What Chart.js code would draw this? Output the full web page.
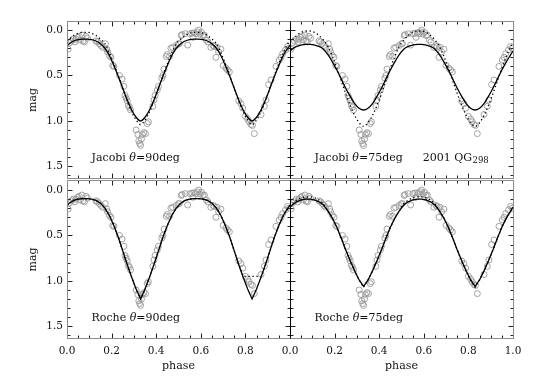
<!DOCTYPE html>
<html><head><meta charset="utf-8">
<script src="https://cdn.jsdelivr.net/npm/chart.js@4"></script>
<style>
html,body{margin:0;padding:0;background:#fff;}
#wrap{position:relative;width:534px;height:382px;background:#fff;}
#wrap canvas{position:absolute;left:0;top:0;}
</style></head><body>
<div id="wrap">
<canvas id="c0" width="534" height="382"></canvas>
<canvas id="c1" width="534" height="382"></canvas>
<canvas id="c2" width="534" height="382"></canvas>
<canvas id="c3" width="534" height="382"></canvas>
</div>
<script>
// ---------- data ----------
const modelPhase = [0,0.01,0.03,0.05,0.07,0.09,0.11,0.13,0.15,0.17,0.19,0.21,0.23,0.25,0.27,0.29,0.31,0.33,0.35,0.37,0.39,0.41,0.43,0.45,0.47,0.49,0.51,0.53,0.55,0.57,0.59,0.61,0.63,0.65,0.67,0.69,0.71,0.73,0.75,0.77,0.79,0.81,0.83,0.85,0.87,0.89,0.91,0.93,0.95,0.97,0.99,1];

const jacobi90Solid = [.17,.15,.12,.105,.10,.10,.105,.12,.15,.20,.28,.39,.51,.64,.77,.88,.96,1.00,.96,.88,.77,.64,.51,.39,.28,.20,.15,.12,.105,.10,.10,.105,.12,.15,.20,.28,.39,.51,.64,.77,.88,.96,1.00,.96,.88,.77,.64,.51,.39,.28,.20,.17];
const jacobi90Dotted = [.12,.10,.06,.035,.025,.025,.035,.06,.10,.15,.25,.37,.50,.64,.78,.90,.99,1.04,.99,.90,.78,.64,.50,.37,.25,.15,.10,.06,.035,.025,.025,.035,.06,.10,.15,.25,.37,.50,.64,.78,.90,.99,1.04,.99,.90,.78,.64,.50,.37,.25,.15,.12];
const jacobi75Solid = [.23,.21,.18,.165,.157,.157,.165,.18,.21,.27,.35,.44,.54,.64,.73,.81,.86,.88,.86,.81,.73,.64,.54,.44,.35,.27,.21,.18,.165,.157,.157,.165,.18,.21,.27,.35,.44,.54,.64,.73,.81,.86,.88,.86,.81,.73,.64,.54,.44,.35,.27,.23];
const jacobi75Dotted = [.14,.11,.06,.025,.01,.01,.025,.06,.11,.18,.29,.42,.56,.70,.83,.94,1.02,1.06,1.02,.94,.83,.70,.56,.42,.29,.18,.11,.06,.025,.01,.01,.025,.06,.11,.18,.29,.42,.56,.70,.83,.94,1.02,1.06,1.02,.94,.83,.70,.56,.42,.29,.18,.14];
const roche90Solid = [.17,.145,.115,.10,.095,.095,.10,.115,.145,.20,.28,.39,.52,.67,.82,.96,1.09,1.20,1.09,.96,.82,.67,.52,.39,.28,.20,.145,.115,.10,.095,.095,.10,.115,.145,.20,.28,.39,.52,.67,.82,.96,1.09,1.20,1.09,.96,.82,.67,.52,.39,.28,.20,.17];
const roche90Dotted = [.17,.145,.115,.10,.095,.095,.10,.115,.145,.20,.28,.39,.52,.67,.82,.96,1.09,1.20,1.09,.96,.82,.67,.52,.39,.28,.20,.145,.115,.10,.095,.095,.10,.115,.145,.20,.28,.39,.52,.67,.82,.95,.95,.95,.95,.95,.82,.67,.52,.39,.28,.20,.17];
const roche75Solid = [.19,.165,.13,.11,.10,.10,.11,.13,.165,.23,.31,.41,.53,.66,.78,.89,.99,1.06,.99,.89,.78,.66,.53,.41,.31,.23,.165,.13,.11,.10,.10,.11,.13,.165,.23,.31,.41,.53,.66,.78,.89,.99,1.06,.99,.89,.78,.66,.53,.41,.31,.23,.19];
const roche75Dotted = [.18,.15,.11,.085,.075,.075,.085,.11,.15,.23,.31,.41,.53,.66,.78,.89,.99,1.07,.99,.89,.78,.66,.53,.41,.31,.23,.15,.11,.085,.075,.075,.085,.11,.15,.23,.31,.41,.53,.66,.78,.89,.99,1.07,.99,.89,.78,.66,.53,.41,.31,.23,.18];

const obsPhase = [0.005,0.012,0.02,0.028,0.035,0.04,0.048,0.055,0.06,0.067,0.072,0.078,0.085,0.092,0.13,0.137,0.145,0.152,0.16,0.172,0.178,0.182,0.19,0.197,0.205,0.21,
0.235,0.247,0.255,0.26,0.265,0.27,0.275,0.28,0.285,0.31,0.318,0.322,0.326,0.33,0.334,0.338,0.345,0.352,0.36,0.365,
0.385,0.39,0.395,0.405,0.41,0.425,0.43,0.435,0.445,0.45,0.46,0.466,0.474,0.49,0.5,
0.504,0.512,0.516,0.53,0.541,0.551,0.56,0.565,0.57,0.578,0.585,0.59,0.597,0.603,0.61,0.616,0.625,0.632,0.645,0.655,0.66,0.668,0.672,0.68,0.69,
0.70,0.713,0.72,0.728,0.77,0.78,0.788,0.80,0.81,0.817,0.825,0.832,0.84,
0.87,0.885,0.892,0.904,0.915,0.937,0.952,0.96,0.967,0.98,0.989,0.996];
const obsMag = [0.21,0.14,0.12,0.10,0.13,0.10,0.08,0.07,0.11,0.055,0.12,0.13,0.07,0.09,0.12,0.13,0.15,0.17,0.19,0.15,0.21,0.24,0.28,0.30,0.39,0.40,
0.50,0.54,0.62,0.72,0.75,0.78,0.83,0.85,0.88,1.10,1.15,1.22,1.25,1.27,1.20,1.15,1.13,1.14,1.03,1.01,
0.84,0.77,0.72,0.66,0.62,0.53,0.50,0.43,0.29,0.27,0.29,0.20,0.19,0.17,0.15,
0.15,0.06,0.05,0.04,0.165,0.04,0.035,0.08,0.03,0.04,0.02,0.0,0.045,0.025,0.06,0.055,0.11,0.13,0.19,0.17,0.18,0.30,0.19,0.24,0.21,
0.39,0.42,0.44,0.46,0.78,0.81,0.86,0.95,0.98,1.01,1.04,1.05,1.14,
0.93,0.84,0.77,0.60,0.55,0.40,0.33,0.30,0.26,0.22,0.18,0.20];

const magTicks = [0.0, 0.5, 1.0, 1.5];
const phaseTicksLeft = [0.0, 0.2, 0.4, 0.6, 0.8];
const phaseTicksRight = [0.0, 0.2, 0.4, 0.6, 0.8, 1.0];
const panelLabels = ['Jacobi', 'Jacobi', 'Roche', 'Roche'];
const panelAngles = ['=90deg', '=75deg', '=90deg', '=75deg'];
const objectName = '2001 QG';
const objectSub = '298';
const yTitle = 'mag';
const xTitle = 'phase';

// ---------- drawing ----------
const SERIF = '"DejaVu Serif", "Liberation Serif", serif';
const GRAY = '#8c8c8c';

const deco = {
  id: 'deco',
  afterDatasetsDraw(chart, args, o) {
    const {ctx, chartArea: a, scales} = chart;
    const xs = scales.x, ys = scales.y;
    ctx.save();
    const L = Math.round(a.left) + 0.5, R = Math.round(a.right) + 0.5;
    const T = Math.round(a.top) + 0.5, B = Math.round(a.bottom) - 0.5;
    ctx.strokeStyle = '#222';
    ctx.lineWidth = 1;
    ctx.beginPath();
    for (let i = 0; i <= 20; i++) {
      const v = i * 0.05;
      const len = (i % 4 === 0) ? 5 : 3;
      const px = Math.round(xs.getPixelForValue(v)) + 0.5;
      ctx.moveTo(px, T); ctx.lineTo(px, T + len);
      ctx.moveTo(px, B); ctx.lineTo(px, B - len);
    }
    for (let i = 0; i <= 16; i++) {
      const v = i * 0.1;
      const len = (i % 5 === 0) ? 5 : 3;
      const py = Math.round(ys.getPixelForValue(v)) + 0.5;
      ctx.moveTo(L, py); ctx.lineTo(L + len, py);
      ctx.moveTo(R, py); ctx.lineTo(R - len, py);
    }
    ctx.stroke();
    const edge = (x1, y1, x2, y2, c) => { ctx.strokeStyle = c; ctx.beginPath(); ctx.moveTo(x1, y1); ctx.lineTo(x2, y2); ctx.stroke(); };
    ctx.lineWidth = 1;
    edge(L, T, R, T, GRAY);
    edge(L, B, R, B, GRAY);
    edge(L, T, L, B, o.leftColor);
    edge(R, T, R, B, o.rightColor);
    ctx.fillStyle = '#111';
    ctx.textBaseline = 'middle';
    ctx.textAlign = 'left';
    let x = xs.getPixelForValue(o.labelX);
    const y = ys.getPixelForValue(o.labelY);
    ctx.font = '11px ' + SERIF;
    const t1 = o.name + ' ';
    ctx.fillText(t1, x, y); x += ctx.measureText(t1).width;
    ctx.font = 'italic 11px ' + SERIF;
    ctx.fillText('\u03B8', x, y); x += ctx.measureText('\u03B8').width;
    ctx.font = '11px ' + SERIF;
    ctx.fillText(o.angle, x, y);
    if (o.object) {
      let x2 = xs.getPixelForValue(o.objectX);
      ctx.fillText(objectName, x2, y); x2 += ctx.measureText(objectName).width + 0.5;
      ctx.font = '8.5px ' + SERIF;
      ctx.fillText(objectSub, x2, y + 3);
    }
    ctx.restore();
  }
};

function makePanel(id, solid, dotted, cfg) {
  const lineData = (arr) => modelPhase.map((p, i) => ({x: p, y: arr[i]}));
  const obs = obsPhase.map((p, i) => ({x: p, y: obsMag[i]}));
  new Chart(document.getElementById(id), {
    type: 'scatter',
    data: {
      datasets: [
        {type: 'line', data: lineData(solid), borderColor: '#000', borderWidth: 1.3, pointRadius: 0,
         tension: cfg.smooth ? 0.4 : 0, cubicInterpolationMode: cfg.smooth ? 'monotone' : 'default', fill: false},
        {type: 'line', data: lineData(dotted), borderColor: '#000', borderWidth: 1.3, borderDash: [1.3, 2.7], pointRadius: 0,
         tension: cfg.smooth ? 0.4 : 0, cubicInterpolationMode: cfg.smooth ? 'monotone' : 'default', fill: false},
        {data: obs, pointStyle: 'circle', pointRadius: 3.0, borderColor: '#9a9a9a', backgroundColor: 'rgba(0,0,0,0)', borderWidth: 0.9}
      ]
    },
    options: {
      responsive: false, animation: false, devicePixelRatio: 1,
      layout: {padding: cfg.padding},
      plugins: {legend: {display: false}, tooltip: {enabled: false},
        deco: {name: cfg.name, angle: cfg.angle, labelX: 0.11, labelY: 1.41, object: cfg.object, objectX: 0.595,
               leftColor: cfg.leftColor, rightColor: cfg.rightColor}},
      scales: {
        x: {type: 'linear', min: 0, max: 1, display: cfg.showX,
            grid: {display: false, drawTicks: false}, border: {display: false},
            afterBuildTicks: (s) => { s.ticks = cfg.xTicks.map(v => ({value: v})); },
            afterFit: (s) => { s.height = cfg.showX ? 43 : 0; },
            ticks: {padding: 6, color: '#111', font: {family: SERIF, size: 10.5}, callback: (v) => Number(v).toFixed(1), maxRotation: 0, autoSkip: false},
            title: {display: true, text: xTitle, color: '#111', font: {family: SERIF, size: 11}, padding: {top: 0, bottom: 9}}},
        y: {type: 'linear', reverse: true, min: cfg.yMin, max: 1.64, display: cfg.showY,
            grid: {display: false, drawTicks: false}, border: {display: false},
            afterBuildTicks: (s) => { s.ticks = magTicks.map(v => ({value: v})); },
            afterFit: (s) => { s.width = cfg.showY ? 67 : 0; },
            ticks: {padding: 4, color: '#111', font: {family: SERIF, size: 10.5}, callback: (v) => Number(v).toFixed(1)},
            title: {display: true, text: yTitle, color: '#111', font: {family: SERIF, size: 11}, padding: {top: 27, bottom: 0}}}
      }
    },
    plugins: [deco]
  });
}

makePanel('c0', jacobi90Solid, jacobi90Dotted, {name: panelLabels[0], angle: panelAngles[0], smooth: true, object: false,
  padding: {left: 0, top: 21, right: 244, bottom: 203}, showX: false, showY: true, xTicks: phaseTicksLeft, yMin: -0.1,
  leftColor: GRAY, rightColor: '#000'});
makePanel('c1', jacobi75Solid, jacobi75Dotted, {name: panelLabels[1], angle: panelAngles[1], smooth: true, object: true,
  padding: {left: 290, top: 21, right: 21, bottom: 203}, showX: false, showY: false, xTicks: phaseTicksRight, yMin: -0.1,
  leftColor: '#000', rightColor: GRAY});
makePanel('c2', roche90Solid, roche90Dotted, {name: panelLabels[2], angle: panelAngles[2], smooth: false, object: false,
  padding: {left: 0, top: 180, right: 244, bottom: 0}, showX: true, showY: true, xTicks: phaseTicksLeft, yMin: -0.11,
  leftColor: GRAY, rightColor: '#000'});
makePanel('c3', roche75Solid, roche75Dotted, {name: panelLabels[3], angle: panelAngles[3], smooth: false, object: false,
  padding: {left: 290, top: 180, right: 21, bottom: 0}, showX: true, showY: false, xTicks: phaseTicksRight, yMin: -0.11,
  leftColor: '#000', rightColor: GRAY});
</script>
</body></html>
